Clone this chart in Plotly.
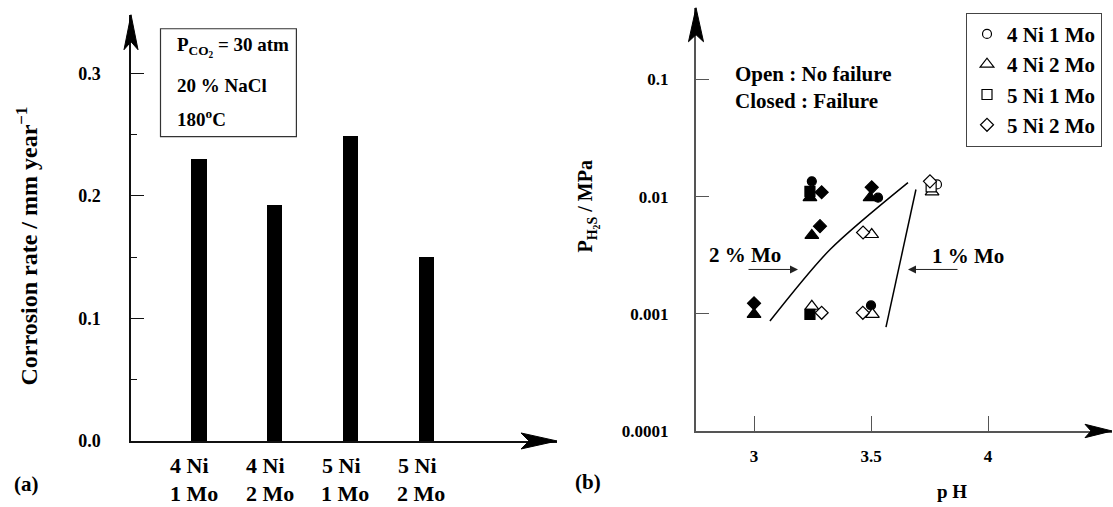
import plotly.graph_objects as go

# ---------------- data: panel (a) ----------------
cat_line1 = ["4 Ni", "4 Ni", "5 Ni", "5 Ni"]
cat_line2 = ["1 Mo", "2 Mo", "1 Mo", "2 Mo"]
categories = [f"{a} {b}" for a, b in zip(cat_line1, cat_line2)]
corrosion_rate = [0.230, 0.193, 0.249, 0.150]
y_ticks_a = [0.0, 0.1, 0.2, 0.3]

# ---------------- data: panel (b) ----------------
alloys = ["4 Ni 1 Mo", "4 Ni 2 Mo", "5 Ni 1 Mo", "5 Ni 2 Mo"]
symbols = ["circle", "triangle-up", "square", "diamond"]
msizes = [9, 12, 10, 10]

ph_4n1m = [3.247, 3.530, 3.500, 3.782]
p_4n1m = [0.0135, 0.0098, 0.00118, 0.0127]
fail_4n1m = [1, 1, 1, 0]

ph_4n2m = [3.000, 3.239, 3.247, 3.247, 3.496, 3.503, 3.506, 3.761]
p_4n2m = [0.00099, 0.0098, 0.00466, 0.00116, 0.0098, 0.00475, 0.00099, 0.0110]
fail_4n2m = [1, 1, 1, 0, 1, 0, 0, 0]

ph_5n1m = [3.239, 3.239, 3.757]
p_5n1m = [0.0111, 0.00099, 0.0121]
fail_5n1m = [1, 1, 0]

ph_5n2m = [3.000, 3.289, 3.282, 3.289, 3.503, 3.466, 3.465, 3.752]
p_5n2m = [0.00123, 0.0109, 0.0056, 0.00102, 0.0120, 0.00494, 0.00102, 0.0135]
fail_5n2m = [1, 1, 1, 0, 1, 0, 0, 0]

series_ph = [ph_4n1m, ph_4n2m, ph_5n1m, ph_5n2m]
series_p = [p_4n1m, p_4n2m, p_5n1m, p_5n2m]
series_fail = [fail_4n1m, fail_4n2m, fail_5n1m, fail_5n2m]

mo2_ph = [3.068, 3.325, 3.658]
mo2_p = [0.000867, 0.00354, 0.01319]
mo1_ph = [3.564, 3.692]
mo1_p = [0.00077, 0.0115]

y_ticks_b = [0.0001, 0.001, 0.01, 0.1]
y_ticktext_b = ["0.0001", "0.001", "0.01", "0.1"]
x_ticks_b = [3, 3.5, 4]
x_ticktext_b = ["3", "3.5", "4"]

W, H = 1113, 507
KY = 1.019  # vertical layout stretch


def px(x):
    return x / W


def py(y):
    return 1 - (13 + (y - 13) * KY) / H


FONT = "Liberation Serif"
fig = go.Figure()

# bars
fig.add_trace(go.Bar(x=categories, y=corrosion_rate, width=0.2,
                     marker=dict(color="black", line=dict(width=0)),
                     xaxis="x", yaxis="y", showlegend=False, hoverinfo="skip"))

# boundary lines
fig.add_trace(go.Scatter(x=mo2_ph, y=mo2_p, mode="lines",
                         line=dict(color="black", width=1.5, shape="spline", smoothing=0.8),
                         xaxis="x2", yaxis="y2", showlegend=False))
fig.add_trace(go.Scatter(x=mo1_ph, y=mo1_p, mode="lines",
                         line=dict(color="black", width=1.5),
                         xaxis="x2", yaxis="y2", showlegend=False))

# markers
for i, (name, sym, ms, phs, ps, fs) in enumerate(zip(alloys, symbols, msizes, series_ph, series_p, series_fail)):
    o_x = [a for a, f in zip(phs, fs) if f == 0]
    o_y = [b for b, f in zip(ps, fs) if f == 0]
    c_x = [a for a, f in zip(phs, fs) if f == 1]
    c_y = [b for b, f in zip(ps, fs) if f == 1]
    fig.add_trace(go.Scatter(x=o_x, y=o_y, mode="markers", name=name, legendgroup=name,
                             legendrank=i + 1,
                             marker=dict(symbol=sym, size=ms, color="white",
                                         line=dict(color="black", width=1.2)),
                             xaxis="x2", yaxis="y2", showlegend=True))
    fig.add_trace(go.Scatter(x=c_x, y=c_y, mode="markers", name=name, legendgroup=name,
                             marker=dict(symbol=sym, size=ms, color="black",
                                         line=dict(color="black", width=1.2)),
                             xaxis="x2", yaxis="y2", showlegend=False))

axcol_a = "#111111"
axcol_b = "#555555"

layout = dict(
    width=W, height=H,
    margin=dict(l=0, r=0, t=0, b=0),
    paper_bgcolor="white", plot_bgcolor="white",
    font=dict(family=FONT, size=17, color="black", weight="bold"),
    xaxis=dict(domain=[px(131), px(557)], range=[-0.898, 4.729], type="category",
               showticklabels=False, ticks="", showline=True, linecolor=axcol_a,
               linewidth=1.5, showgrid=False, zeroline=False, fixedrange=True),
    yaxis=dict(domain=[py(441.7), py(15)], range=[0, 0.3478],
               tickvals=y_ticks_a, tickformat=".1f", ticks="inside", ticklen=13,
               tickwidth=1.2, tickcolor=axcol_a, ticklabelstandoff=25,
               minor=dict(dtick=0.05, ticks="inside", ticklen=6, tickwidth=1.2, tickcolor=axcol_a),
               showline=True, linecolor=axcol_a, linewidth=1.5,
               showgrid=False, zeroline=False, tickfont=dict(size=18)),
    xaxis2=dict(domain=[px(696), px(1112)], range=[2.752, 4.530], anchor="y2",
                tickvals=x_ticks_b, ticktext=x_ticktext_b, ticks="inside", ticklen=15,
                tickwidth=1.2, tickcolor=axcol_b, ticklabelstandoff=9,
                showline=True, linecolor=axcol_b, linewidth=2,
                showgrid=False, zeroline=False, tickfont=dict(size=17)),
    yaxis2=dict(domain=[py(431.7), py(8)], range=[-4, -0.388], type="log", anchor="x2",
                tickvals=y_ticks_b, ticktext=y_ticktext_b, ticks="inside", ticklen=13,
                tickwidth=1.2, tickcolor=axcol_b, ticklabelstandoff=22,
                showline=True, linecolor=axcol_b, linewidth=2,
                showgrid=False, zeroline=False, tickfont=dict(size=17)),
    showlegend=True,
    legend=dict(x=px(966), y=py(13), xanchor="left", yanchor="top",
                bordercolor="#444444", borderwidth=1, bgcolor="white",
                font=dict(size=21), tracegroupgap=0, itemwidth=30),
    bargap=0,
)
fig.update_layout(**layout)


def arrow_up(x, ytip, L, hw, notch, col):
    return dict(type="path", xref="paper", yref="paper",
                path=f"M {px(x)} {py(ytip)} L {px(x - hw)} {py(ytip + L)} L {px(x)} {py(ytip + L - notch)} L {px(x + hw)} {py(ytip + L)} Z",
                fillcolor=col, line=dict(color=col, width=1))


def arrow_right(xtip, y, L, hw, notch, col):
    return dict(type="path", xref="paper", yref="paper",
                path=f"M {px(xtip)} {py(y)} L {px(xtip - L)} {py(y - hw)} L {px(xtip - L + notch)} {py(y)} L {px(xtip - L)} {py(y + hw)} Z",
                fillcolor=col, line=dict(color=col, width=1))


shapes = [
    arrow_up(131, 15, 35, 7, 8, "black"),
    arrow_right(557, 441.7, 36, 8, 8, "black"),
    arrow_up(696, 8, 34, 7.5, 7, "black"),
    arrow_right(1112, 431.7, 27, 6.7, 6, "black"),
    dict(type="rect", xref="paper", yref="paper",
         x0=px(160.5), x1=px(296.4), y0=py(137), y1=py(29),
         line=dict(color="#333333", width=1.2), fillcolor="rgba(0,0,0,0)"),
]
fig.update_layout(shapes=shapes)

ann = []
# category labels
for c, l1, l2 in zip(categories, cat_line1, cat_line2):
    ann.append(dict(x=c, xref="x", y=py(466), yref="paper", text=l1, showarrow=False,
                    xanchor="center", yanchor="middle", xshift=-9, font=dict(size=22)))
    ann.append(dict(x=c, xref="x", y=py(494), yref="paper", text=l2, showarrow=False,
                    xanchor="center", yanchor="middle", xshift=-5, font=dict(size=22)))

# text box lines
ann += [
    dict(x=px(175), y=py(47), xref="paper", yref="paper", xanchor="left", yanchor="middle",
         text="P<sub>CO<sub>2</sub></sub> = 30 atm", showarrow=False, font=dict(size=19)),
    dict(x=px(175), y=py(86), xref="paper", yref="paper", xanchor="left", yanchor="middle",
         text="20 % NaCl", showarrow=False, font=dict(size=19)),
    dict(x=px(175), y=py(118), xref="paper", yref="paper", xanchor="left", yanchor="middle",
         text="180<sup>o</sup>C", showarrow=False, font=dict(size=19)),
]

# axis titles
ann += [
    dict(x=px(27), y=py(247), xref="paper", yref="paper", textangle=-90,
         text="Corrosion rate / mm year<sup>\u22121</sup>", showarrow=False,
         xanchor="center", yanchor="middle", font=dict(size=24)),
    dict(x=px(588), y=py(207), xref="paper", yref="paper", textangle=-90,
         text="P<sub>H<sub>2</sub>S</sub> / MPa", showarrow=False,
         xanchor="center", yanchor="middle", font=dict(size=20)),
    dict(x=px(952), y=py(492), xref="paper", yref="paper",
         text="p H", showarrow=False, xanchor="center", yanchor="middle", font=dict(size=19)),
    dict(x=px(26), y=py(485), xref="paper", yref="paper",
         text="(a)", showarrow=False, xanchor="center", yanchor="middle", font=dict(size=21)),
    dict(x=px(588), y=py(483), xref="paper", yref="paper",
         text="(b)", showarrow=False, xanchor="center", yanchor="middle", font=dict(size=21)),
]

# open / closed note
ann += [
    dict(x=px(733), y=py(74), xref="paper", yref="paper", xanchor="left", yanchor="middle",
         text="Open : No failure", showarrow=False, font=dict(size=21)),
    dict(x=px(733), y=py(101), xref="paper", yref="paper", xanchor="left", yanchor="middle",
         text="Closed : Failure", showarrow=False, font=dict(size=21)),
]

# Mo labels and arrows
ann += [
    dict(x=px(745), y=py(256), xref="paper", yref="paper", text="2 % Mo",
         showarrow=False, xanchor="center", yanchor="middle", font=dict(size=21)),
    dict(x=px(968), y=py(257), xref="paper", yref="paper", text="1 % Mo",
         showarrow=False, xanchor="center", yanchor="middle", font=dict(size=21)),
    dict(x=px(798), y=py(270), xref="paper", yref="paper", text="", showarrow=True,
         ax=-51, ay=0, arrowhead=2, arrowsize=1.6, arrowwidth=1, arrowcolor="#222222"),
    dict(x=px(908), y=py(270), xref="paper", yref="paper", text="", showarrow=True,
         ax=51, ay=0, arrowhead=2, arrowsize=1.6, arrowwidth=1, arrowcolor="#222222"),
]
fig.update_layout(annotations=ann)

fig.write_html("out.html", config={"displayModeBar": False},
               post_script="document.body.style.margin='0px';")
